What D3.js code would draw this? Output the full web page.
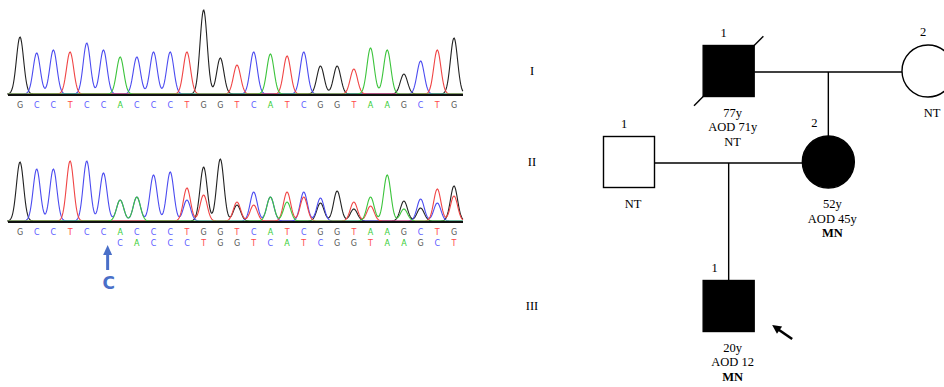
<!DOCTYPE html>
<html>
<head>
<meta charset="utf-8">
<script src="https://cdn.jsdelivr.net/npm/d3@7"></script>
<style>
  html, body { margin: 0; padding: 0; background: #fff; }
  svg { display: block; }
  .base { font-family: "DejaVu Sans", sans-serif; font-size: 8px; text-anchor: middle; }
  .ped { font-family: "Liberation Serif", "Times New Roman", serif; font-size: 12.5px; text-anchor: middle; fill: #000; }
</style>
</head>
<body>
<svg id="chart" width="944" height="387"></svg>
<script>
// --- sequencing data ---
const refSeq = "GCCTCCACCCTGGTCATCGGTAAGCTG".split("");
const mutSeq = "CACCCTGGTCATCGGTAAGCT".split("");   // second allele, starts at index 6
const mutStart = 6;
const insertAt = 5.25;                                 // arrow position (base index)

// top trace (normal) peak heights, one per base in refSeq
const topHeights = [57, 41, 44, 42, 51, 44, 37, 37, 42, 42, 42, 84, 36, 29, 42, 40, 38, 42, 28, 28, 25, 46, 44, 20, 33, 44, 56];
// bottom trace (patient): allele 1 heights (refSeq), allele 2 heights (mutSeq)
const botHeights1 = [59, 52, 52, 60, 60, 48, 21, 24, 23, 25, 33, 54, 31, 19, 29, 24, 29, 29, 18, 15, 19, 24, 23, 20, 22, 32, 35];
const botHeights2 = [21, 24, 23, 24, 21, 26, 31, 16, 16, 24, 19, 24, 23, 15, 12, 15, 23, 12, 13, 18, 25];

const baseColors = { G: "#222222", C: "#4b4bf0", T: "#f04545", A: "#3cc43c" };
const letterColors = { G: "#555555", C: "#5a5aff", T: "#ff4a4a", A: "#33cc33" };

// --- pedigree data ---
const generations = ["I", "II", "III"];
const people = [
  { id: "I-1",   gen: "I",   slot: 1, num: "1", sex: "m", affected: true,  deceased: true,  notes: ["77y", "AOD 71y", "NT"], bold: [] },
  { id: "I-2",   gen: "I",   slot: 3, num: "2", sex: "f", affected: false, deceased: false, notes: ["NT"], bold: [] },
  { id: "II-1",  gen: "II",  slot: 0, num: "1", sex: "m", affected: false, deceased: false, notes: ["NT"], bold: [] },
  { id: "II-2",  gen: "II",  slot: 2, num: "2", sex: "f", affected: true,  deceased: false, notes: ["52y", "AOD 45y", "MN"], bold: ["MN"] },
  { id: "III-1", gen: "III", slot: 1, num: "1", sex: "m", affected: true,  deceased: false, notes: ["20y", "AOD 12", "MN"], bold: ["MN"], proband: true }
];
const couples = [
  { a: "I-1",  b: "I-2",  child: "II-2" },
  { a: "II-1", b: "II-2", child: "III-1" }
];

const svg = d3.select("#chart");

// ---------- chromatograms ----------
const x = d3.scaleLinear().domain([0, refSeq.length - 1]).range([20, 454]);
const sigma = 0.215;

function traces(peaks) {
  // peaks: [{i, base, h}]
  const xs = d3.range(-0.75, refSeq.length - 0.45, 0.04);
  return Object.keys(baseColors).map(b => ({
    base: b,
    pts: xs.map(t => [t, d3.sum(peaks.filter(p => p.base === b), p => p.h * Math.exp(-((t - p.i) ** 2) / (2 * sigma * sigma)))])
  }));
}

function drawPanel(baseY, peaks, rows) {
  const y = d3.scaleLinear().domain([0, 100]).range([baseY, baseY - 100]);
  const g = svg.append("g");
  const line = d3.line().x(d => x(d[0])).y(d => y(d[1]));
  g.selectAll("path.trace")
    .data(traces(peaks))
    .join("path")
      .attr("class", "trace")
      .attr("fill", "none")
      .attr("stroke", d => baseColors[d.base])
      .attr("stroke-width", 1.1)
      .attr("d", d => line(d.pts));
  g.append("line")
    .attr("x1", 8).attr("x2", 463)
    .attr("y1", y(0) + 1).attr("y2", y(0) + 1)
    .attr("stroke", "#111").attr("stroke-width", 1.8);
  rows.forEach((r, k) => {
    g.selectAll(null)
      .data(r.seq)
      .join("text")
        .attr("class", "base")
        .attr("x", (d, i) => x(i + r.start))
        .attr("y", baseY + 14 + k * 11)
        .attr("fill", d => letterColors[d])
        .text(d => d);
  });
  return y;
}

const topPeaks = refSeq.map((b, i) => ({ i, base: b, h: topHeights[i] }));
drawPanel(94, topPeaks, [{ seq: refSeq, start: 0 }]);

const botPeaks = refSeq.map((b, i) => ({ i, base: b, h: botHeights1[i] }))
  .concat(mutSeq.map((b, j) => ({ i: j + mutStart, base: b, h: botHeights2[j] })));
drawPanel(221, botPeaks, [{ seq: refSeq, start: 0 }, { seq: mutSeq, start: mutStart }]);

// mutation arrow
const ax = x(insertAt);
const arrowColor = "#4a6fc8";
svg.append("line")
  .attr("x1", ax).attr("x2", ax).attr("y1", 270).attr("y2", 253)
  .attr("stroke", arrowColor).attr("stroke-width", 3);
svg.append("path")
  .attr("d", d3.line()([[ax - 4.5, 255], [ax, 245], [ax + 4.5, 255]]) + "Z")
  .attr("fill", arrowColor);
svg.append("text")
  .attr("x", ax + 1).attr("y", 289)
  .attr("text-anchor", "middle")
  .attr("font-family", "DejaVu Sans, sans-serif")
  .attr("font-size", 17).attr("font-weight", "bold")
  .attr("fill", arrowColor)
  .text("C");

// ---------- pedigree ----------
const px = d3.scaleLinear().domain([0, 3]).range([629, 928]);
const py = d3.scaleOrdinal().domain(generations).range([71, 162, 306]);
const size = 51, r = 26;
const byId = Object.fromEntries(people.map(p => [p.id, p]));
const ped = svg.append("g");

// generation labels
ped.selectAll("text.gen")
  .data(generations)
  .join("text")
    .attr("class", "ped gen")
    .attr("font-size", 11)
    .attr("x", 532)
    .attr("y", d => py(d) + 4)
    .text(d => d);

// couple and descent lines
couples.forEach(c => {
  const a = byId[c.a], b = byId[c.b], ch = byId[c.child];
  const edge = p => p.sex === "m" ? size / 2 : r;
  const y0 = py(a.gen) + 1;
  ped.append("line")
    .attr("x1", px(a.slot) + edge(a)).attr("x2", px(b.slot) - edge(b))
    .attr("y1", y0).attr("y2", y0)
    .attr("stroke", "#000").attr("stroke-width", 1.4);
  const top = py(ch.gen) - (ch.sex === "m" ? size / 2 : r);
  ped.append("line")
    .attr("x1", px(ch.slot)).attr("x2", px(ch.slot))
    .attr("y1", y0).attr("y2", top)
    .attr("stroke", "#000").attr("stroke-width", 1.4);
});

const hasParents = new Set(couples.map(c => c.child));

people.forEach(p => {
  const cx = px(p.slot), cy = py(p.gen);
  const fill = p.affected ? "#000" : "#fff";
  if (p.sex === "m") {
    ped.append("rect")
      .attr("x", cx - size / 2).attr("y", cy - size / 2)
      .attr("width", size).attr("height", size)
      .attr("fill", fill).attr("stroke", "#000").attr("stroke-width", 1.4);
  } else {
    ped.append("circle")
      .attr("cx", cx).attr("cy", cy).attr("r", r)
      .attr("fill", fill).attr("stroke", "#000").attr("stroke-width", 1.4);
  }
  if (p.deceased) {
    const d = size * 0.68;
    ped.append("line")
      .attr("x1", cx - d).attr("y1", cy + d)
      .attr("x2", cx + d).attr("y2", cy - d)
      .attr("stroke", "#000").attr("stroke-width", 1.4);
  }
  const half = p.sex === "m" ? size / 2 : r;
  ped.append("text")
    .attr("class", "ped")
    .attr("x", cx + (hasParents.has(p.id) ? -14 : -5))
    .attr("y", cy - half - 9)
    .text(p.num);
  p.notes.forEach((t, k) => {
    ped.append("text")
      .attr("class", "ped")
      .attr("x", cx + 4)
      .attr("y", cy + half + 20 + k * 14.5)
      .attr("font-weight", p.bold.includes(t) ? "bold" : null)
      .text(t);
  });
  if (p.proband) {
    const x0 = cx + half + 38, y0 = cy + 33;
    const x1 = cx + half + 18, y1 = cy + 19;
    ped.append("line")
      .attr("x1", x0).attr("y1", y0).attr("x2", x1 + 4).attr("y2", y1 + 3)
      .attr("stroke", "#000").attr("stroke-width", 2.6);
    const ang = Math.atan2(y1 - y0, x1 - x0);
    const hl = 9, hw = 4.5;
    const bx = x1 - hl * Math.cos(ang), by = y1 - hl * Math.sin(ang);
    ped.append("path")
      .attr("d", d3.line()([
        [x1, y1],
        [bx + hw * Math.sin(ang), by - hw * Math.cos(ang)],
        [bx - hw * Math.sin(ang), by + hw * Math.cos(ang)]
      ]) + "Z")
      .attr("fill", "#000");
  }
});
</script>
</body>
</html>
